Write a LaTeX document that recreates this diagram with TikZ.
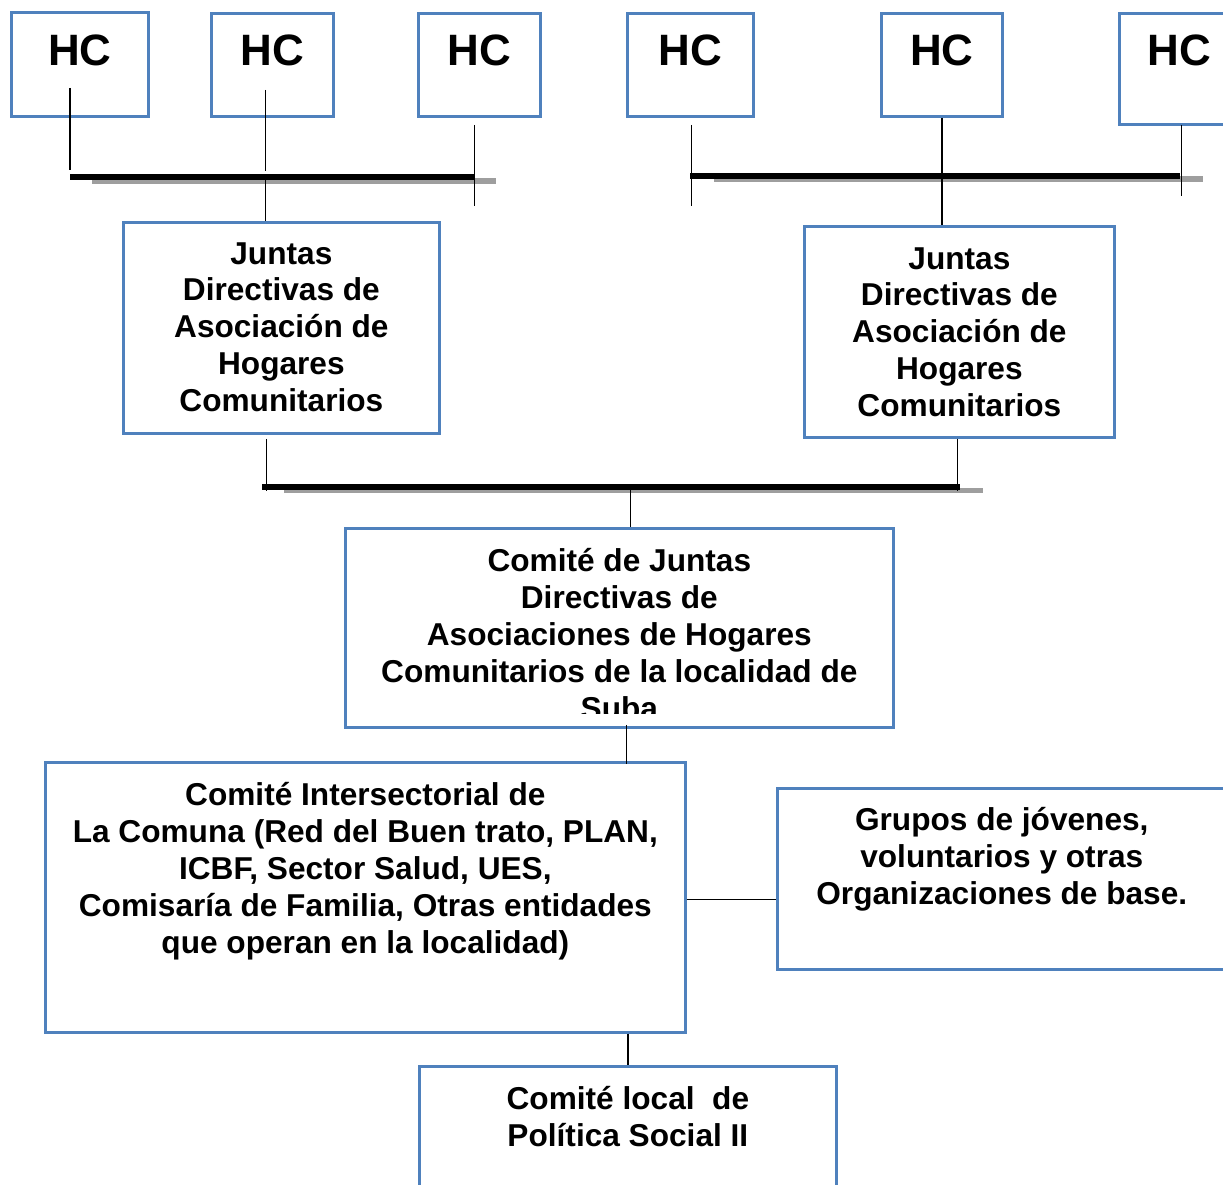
\documentclass[tikz,border=0pt]{standalone}
\usepackage{fontspec}
\setmainfont{Liberation Sans}
\usetikzlibrary{positioning}
\definecolor{boxblue}{RGB}{79,129,189}

\begin{document}
\begin{tikzpicture}[
    x=0.02cm, y=-0.02cm,
    box/.style={draw=boxblue, line width=1.6pt, anchor=north west, inner sep=0pt},
    hctext/.style={font=\fontsize{25}{30}\selectfont\bfseries, inner sep=0pt},
    boxtext/.style={font=\fontsize{18}{21}\selectfont\bfseries, align=center, inner sep=0pt},
    link/.style={line width=0.8pt},
    bar/.style={line width=3.4pt},
    barshadow/.style={line width=3.2pt, draw=black!38}
]

\useasboundingbox (0,0) rectangle (1223,1185);
\clip (0,0) rectangle (1223,1185);

% Hogares comunitarios
\node[box, minimum width=2.74cm, minimum height=2.08cm] (hc1) at (10,11) {};
\node[hctext, below=0.46cm] at (hc1.north) {HC};

\node[box, minimum width=2.44cm, minimum height=2.06cm] (hc2) at (210,12) {};
\node[hctext, below=0.44cm] at (hc2.north) {HC};

\node[box, minimum width=2.44cm, minimum height=2.06cm] (hc3) at (417,12) {};
\node[hctext, below=0.44cm] at (hc3.north) {HC};

\node[box, minimum width=2.52cm, minimum height=2.06cm] (hc4) at (626,12) {};
\node[hctext, below=0.44cm] at (hc4.north) {HC};

\node[box, minimum width=2.42cm, minimum height=2.06cm] (hc5) at (880,12) {};
\node[hctext, below=0.44cm] at (hc5.north) {HC};

\node[box, minimum width=2.4cm, minimum height=2.22cm] (hc6) at (1118,12) {};
\node[hctext, below=0.44cm] at (hc6.north) {HC};

% Juntas directivas
\node[box, minimum width=6.32cm, minimum height=4.22cm] (juntas1) at (122,221) {};
\node[boxtext, below=0.42cm] at (juntas1.north)
    {Juntas\\Directivas de\\Asociación de\\Hogares\\Comunitarios};

\node[box, minimum width=6.2cm, minimum height=4.22cm] (juntas2) at (803,225) {};
\node[boxtext, below=0.44cm] at (juntas2.north)
    {Juntas\\Directivas de\\Asociación de\\Hogares\\Comunitarios};

% Comites
\node[box, minimum width=10.96cm, minimum height=3.98cm] (comite) at (344,527) {};
\begin{scope}
    \clip (344,527) rectangle (892,713);
    \node[boxtext, below=0.42cm] at (comite.north)
        {Comité de Juntas\\Directivas de\\Asociaciones de Hogares\\Comunitarios de la localidad de\\Suba};
\end{scope}

\node[box, minimum width=12.8cm, minimum height=5.4cm] (inter) at (44,761) {};
\node[boxtext, below=0.42cm] at (inter.north)
    {Comité Intersectorial de\\La Comuna (Red del Buen trato, PLAN,\\ICBF, Sector Salud, UES,\\Comisaría de Familia, Otras entidades\\que operan en la localidad)};

\node[box, minimum width=9.5cm, minimum height=3.62cm] (grupos) at (776,787) {};
\node[boxtext, below right=0.4cm and 0.8cm] at (grupos.north west)
    {Grupos de jóvenes,\\voluntarios y otras\\Organizaciones de base.};

\node[box, minimum width=8.34cm, minimum height=3cm] (politica) at (418,1065) {};
\node[boxtext, below=0.42cm] at (politica.north)
    {Comité local~ de\\Política Social II};

% barras de union
\coordinate (b1w) at (70,177);   \coordinate (b1e) at (474,177);
\coordinate (b2w) at (690,176);  \coordinate (b2e) at (1180,176);
\coordinate (b3w) at (262,487);  \coordinate (b3e) at (960,487);

\draw[barshadow] ([shift={(22,4)}]b1w) -- ([shift={(22,4)}]b1e);
\draw[bar] (b1w) -- (b1e);
\draw[barshadow] ([shift={(24,3)}]b2w) -- ([shift={(23,3)}]b2e);
\draw[bar] (b2w) -- (b2e);
\draw[barshadow] ([shift={(22,3.5)}]b3w) -- ([shift={(23,3.5)}]b3e);
\draw[bar] (b3w) -- (b3e);

\draw[link] ([shift={(-10,-30)}]hc1.south) -- ++(0,82);
\draw[link] ([shift={(-7,-28)}]hc2.south) -- ++(0,81);
\draw[link] ([shift={(-5,7)}]hc3.south) -- ++(0,81);
\draw[link] ([shift={(-16,0)}]juntas1.north) -- ++(0,-42);

\draw[link] ([shift={(1,7)}]hc4.south) -- ++(0,81);
\draw[link] (hc5.south) -- (hc5.south |- juntas2.north);
\draw[link] ([shift={(2,-1)}]hc6.south) -- ++(0,71);

\draw[link] ([shift={(-15,4)}]juntas1.south) -- ++(0,52);
\draw[link] ([shift={(-2,0)}]juntas2.south) -- ++(0,52);
\draw[link] ([shift={(11,-37)}]comite.north) -- ([shift={(11,0)}]comite.north);

\draw[link] ([shift={(7,-4)}]comite.south) -- ++(0,39);
\draw[link] ([shift={(0,2)}]inter.east) -- ([shift={(0,2)}]inter.east -| grupos.west);
\draw[link] (politica.north |- inter.south) -- (politica.north);

\end{tikzpicture}
\end{document}
